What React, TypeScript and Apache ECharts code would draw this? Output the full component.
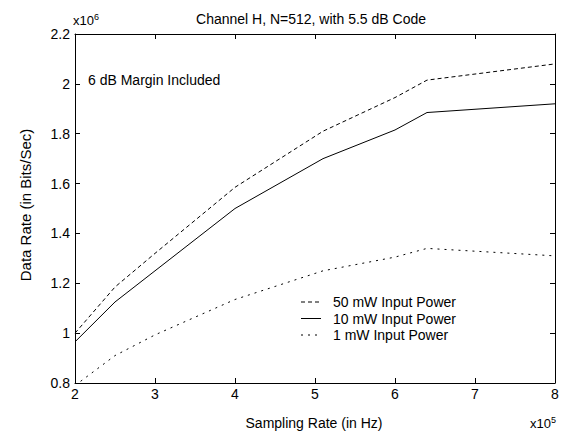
import React, { useEffect, useRef } from "react";
import * as echarts from "echarts";

const samplingRate = [2, 2.5, 3, 4, 5.1, 6, 6.4, 8];
const power50mW = [1.0, 1.185, 1.32, 1.585, 1.81, 1.945, 2.015, 2.08];
const power10mW = [0.965, 1.125, 1.25, 1.5, 1.7, 1.815, 1.885, 1.92];
const power1mW = [0.79, 0.91, 0.993, 1.135, 1.25, 1.305, 1.34, 1.31];
const seriesNames = ["50 mW Input Power", "10 mW Input Power", "1 mW Input Power"];
const titleText = "Channel H, N=512, with 5.5 dB Code";
const noteText = "6 dB Margin Included";
const xName = "Sampling Rate (in Hz)";
const yName = "Data Rate (in Bits/Sec)";

const FONT = "'Liberation Sans', Arial, Helvetica, sans-serif";

export default function App() {
  const ref = useRef<HTMLDivElement>(null);
  useEffect(() => {
    if (!ref.current) return;
    const chart = echarts.init(ref.current, null, { renderer: "svg" });
    const pair = (ys: number[]) => samplingRate.map((x, i) => [x, ys[i]]);
    const styles = [
      { type: [4, 3] as number[] },
      { type: "solid" as const },
      { type: [2, 5] as number[] },
    ];
    const data = [power50mW, power10mW, power1mW];
    const axisCommon = {
      axisLine: { show: true, lineStyle: { color: "#000", width: 1 } },
      axisTick: { show: true, inside: true, length: 5, lineStyle: { color: "#000" } },
      splitLine: { show: false },
    };
    chart.setOption({
      animation: false,
      backgroundColor: "#fff",
      textStyle: { fontFamily: FONT },
      grid: { left: 75, right: 11, top: 34, bottom: 49, containLabel: false },
      xAxis: [
        {
          type: "value",
          min: 2,
          max: 8,
          interval: 1,
          position: "bottom",
          ...axisCommon,
          axisLabel: { color: "#000", fontSize: 14, margin: 4, fontFamily: FONT },
        },
        {
          type: "value",
          min: 2,
          max: 8,
          interval: 1,
          position: "top",
          ...axisCommon,
          axisLabel: { show: false },
        },
      ],
      yAxis: [
        {
          type: "value",
          min: 0.8,
          max: 2.2,
          interval: 0.2,
          position: "left",
          ...axisCommon,
          axisLabel: {
            color: "#000",
            fontSize: 14,
            margin: 5,
            fontFamily: FONT,
            formatter: (v: number) => String(parseFloat(v.toFixed(1))),
          },
        },
        {
          type: "value",
          min: 0.8,
          max: 2.2,
          interval: 0.2,
          position: "right",
          ...axisCommon,
          axisLabel: { show: false },
        },
      ],
      series: data.map((d, i) => ({
        name: seriesNames[i],
        type: "line",
        xAxisIndex: 0,
        yAxisIndex: 0,
        data: pair(d),
        showSymbol: false,
        symbol: "none",
        lineStyle: { color: "#000", width: 1, type: styles[i].type },
        z: 3,
      })),
      graphic: [
        {
          type: "text",
          x: 311,
          y: 19,
          style: {
            text: titleText,
            fill: "#000",
            font: `14px ${FONT}`,
            textAlign: "center",
            textVerticalAlign: "middle",
          },
        },
        {
          type: "text",
          x: 73,
          y: 20,
          style: {
            text: "x10{s|6}",
            fill: "#000",
            font: `13px ${FONT}`,
            textAlign: "left",
            textVerticalAlign: "middle",
            rich: { s: { fontSize: 9, fontFamily: FONT, verticalAlign: "top", padding: [0, 0, 6, 0] } },
          },
        },
        {
          type: "text",
          x: 88,
          y: 80,
          style: {
            text: noteText,
            fill: "#000",
            font: `14px ${FONT}`,
            textAlign: "left",
            textVerticalAlign: "middle",
          },
        },
        {
          type: "text",
          x: 314,
          y: 423,
          style: {
            text: xName,
            fill: "#000",
            font: `14px ${FONT}`,
            textAlign: "center",
            textVerticalAlign: "middle",
          },
        },
        {
          type: "text",
          x: 530,
          y: 423,
          style: {
            text: "x10{s|5}",
            fill: "#000",
            font: `13px ${FONT}`,
            textAlign: "left",
            textVerticalAlign: "middle",
            rich: { s: { fontSize: 9, fontFamily: FONT, verticalAlign: "top", padding: [0, 0, 6, 0] } },
          },
        },
        {
          type: "text",
          x: 25,
          y: 205,
          rotation: Math.PI / 2,
          style: {
            text: yName,
            fill: "#000",
            font: `15px ${FONT}`,
            textAlign: "center",
            textVerticalAlign: "middle",
          },
        },
        ...seriesNames.flatMap((name, i) => [
          {
            type: "line",
            shape: { x1: 301, y1: 302 + i * 16.5, x2: 321, y2: 302 + i * 16.5 },
            style: {
              stroke: "#000",
              lineWidth: 1,
              lineDash: styles[i].type === "solid" ? null : (styles[i].type as number[]),
            },
          },
          {
            type: "text",
            x: 333,
            y: 302 + i * 16.5,
            style: {
              text: name,
              fill: "#000",
              font: `14px ${FONT}`,
              textAlign: "left",
              textVerticalAlign: "middle",
            },
          },
        ]),
      ],
    });
    return () => chart.dispose();
  }, []);
  return <div ref={ref} style={{ width: 566, height: 432, position: "absolute", left: 0, top: 0 }} />;
}
